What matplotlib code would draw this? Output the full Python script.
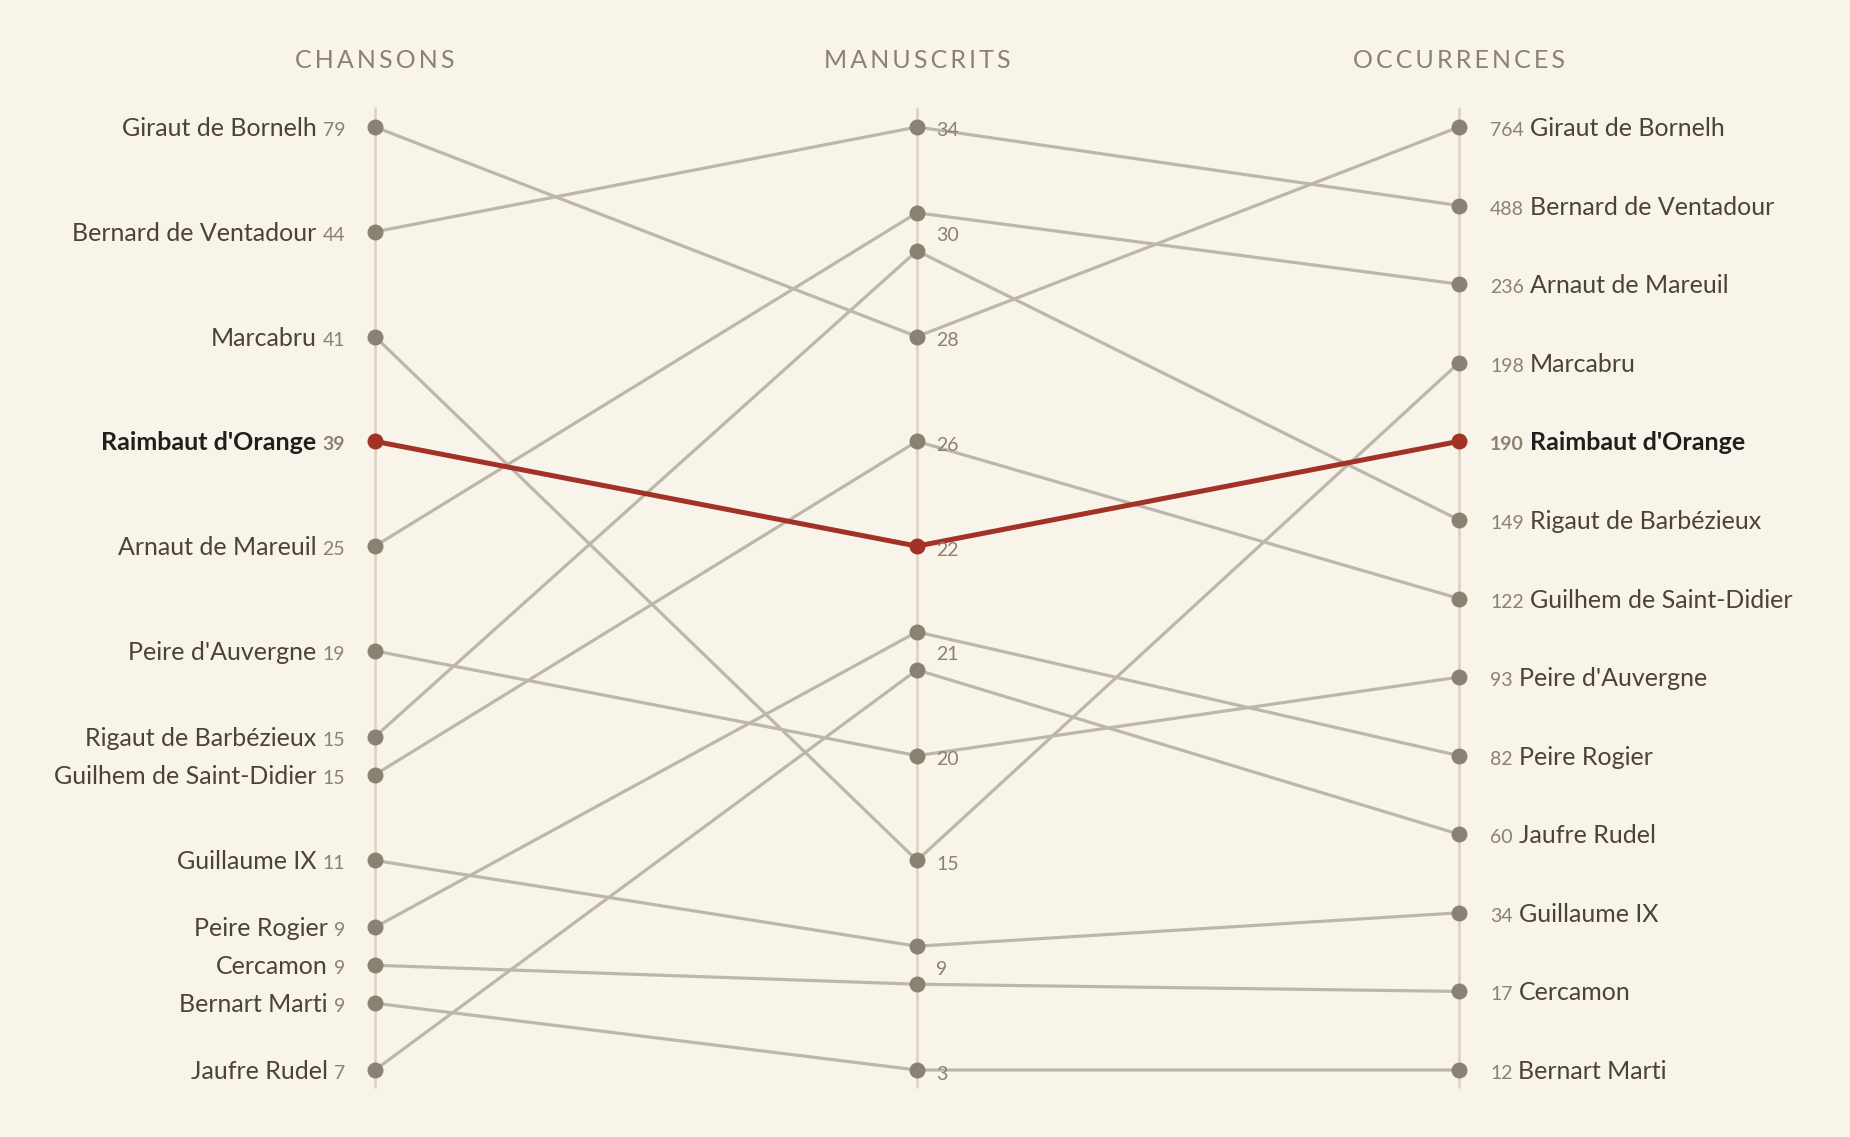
import numpy as np
import matplotlib.pyplot as plt

troubadours = ["Giraut de Bornelh", "Bernard de Ventadour", "Marcabru", "Raimbaut d'Orange",
               "Arnaut de Mareuil", "Peire d'Auvergne", "Rigaut de Barbézieux",
               "Guilhem de Saint-Didier", "Guillaume IX", "Peire Rogier", "Cercamon",
               "Bernart Marti", "Jaufre Rudel"]
chansons = [79, 44, 41, 39, 25, 19, 15, 15, 11, 9, 9, 9, 7]
manuscrits = [28, 34, 15, 22, 30, 20, 30, 26, 9, 21, 9, 3, 21]
occurrences = [764, 488, 198, 190, 236, 93, 149, 122, 34, 82, 17, 12, 60]
headers = ["CHANSONS", "MANUSCRITS", "OCCURRENCES"]
highlight = "Raimbaut d'Orange"

BG = "#f8f4e9"
AXIS = "#ddd5c6"
LINE = "#bdb6ab"
DOT = "#8b8173"
RED = "#a33226"
NAME = "#4b4239"
DARK = "#231e1a"
NUM = "#8b8173"
FONT = ["Lato", "DejaVu Sans"]

W, H = 1850, 1137
cols_x = [375, 917, 1459]
top, bottom = 127, 1070
tie_gap = 38


def column_positions(values, tiebreak):
    distinct = sorted(set(values), reverse=True)
    step = (bottom - top) / (len(distinct) - 1)
    pos = np.zeros(len(values))
    centers = {}
    for k, v in enumerate(distinct):
        idx = [i for i in range(len(values)) if values[i] == v]
        idx.sort(key=lambda i: -tiebreak[i])
        c = top + k * step
        centers[v] = c
        for j, i in enumerate(idx):
            pos[i] = c + (j - (len(idx) - 1) / 2) * tie_gap
    return pos, centers


yl, _ = column_positions(chansons, occurrences)
ym, mid_centers = column_positions(manuscrits, occurrences)
yr, _ = column_positions(occurrences, occurrences)

fig = plt.figure(figsize=(W / 100, H / 100), dpi=100, facecolor=BG)
ax = fig.add_axes([0, 0, 1, 1])
ax.set_facecolor(BG)
ax.set_xlim(0, W)
ax.set_ylim(H, 0)
ax.axis("off")

for x in cols_x:
    ax.plot([x, x], [107, 1088], color=AXIS, lw=2, zorder=1, solid_capstyle="butt")

for x, h in zip(cols_x, headers):
    ax.text(x, 60, "\u2009".join(h), ha="center", va="center", fontsize=18,
            color=NUM, family=FONT)

for i, name in enumerate(troubadours):
    hl = name == highlight
    ys = [yl[i], ym[i], yr[i]]
    ax.plot(cols_x, ys, color=RED if hl else LINE, lw=3.6 if hl else 2.3,
            zorder=4 if hl else 2, solid_capstyle="round")
    ax.plot(cols_x, ys, "o", color=RED if hl else DOT, ms=11.5, mec="none",
            zorder=5 if hl else 3)

for v, c in mid_centers.items():
    ax.text(cols_x[1] + 19, c + 4, str(v), ha="left", va="center", fontsize=14,
            color=NUM, family=FONT, zorder=6)

fig.canvas.draw()
renderer = fig.canvas.get_renderer()
inv = ax.transData.inverted()


def x_extent(t):
    bb = t.get_window_extent(renderer)
    x0 = inv.transform((bb.x0, 0))[0]
    x1 = inv.transform((bb.x1, 0))[0]
    return x0, x1


for i, name in enumerate(troubadours):
    hl = name == highlight
    w = "bold" if hl else "normal"
    # left column
    t = ax.text(cols_x[0] - 30, yl[i] + 9, str(chansons[i]), ha="right", va="baseline",
                fontsize=14, color=NUM, family=FONT, fontweight=w)
    x0, _ = x_extent(t)
    ax.text(x0 - 6, yl[i] + 9, name, ha="right", va="baseline", fontsize=18,
            color=DARK if hl else NAME, family=FONT, fontweight=w)
    # right column
    t = ax.text(cols_x[2] + 31, yr[i] + 9, str(occurrences[i]), ha="left", va="baseline",
                fontsize=14, color=NUM, family=FONT, fontweight=w)
    _, x1 = x_extent(t)
    ax.text(x1 + 6, yr[i] + 9, name, ha="left", va="baseline", fontsize=18,
            color=DARK if hl else NAME, family=FONT, fontweight=w)

fig.savefig("out.png", dpi=100, facecolor=BG)
